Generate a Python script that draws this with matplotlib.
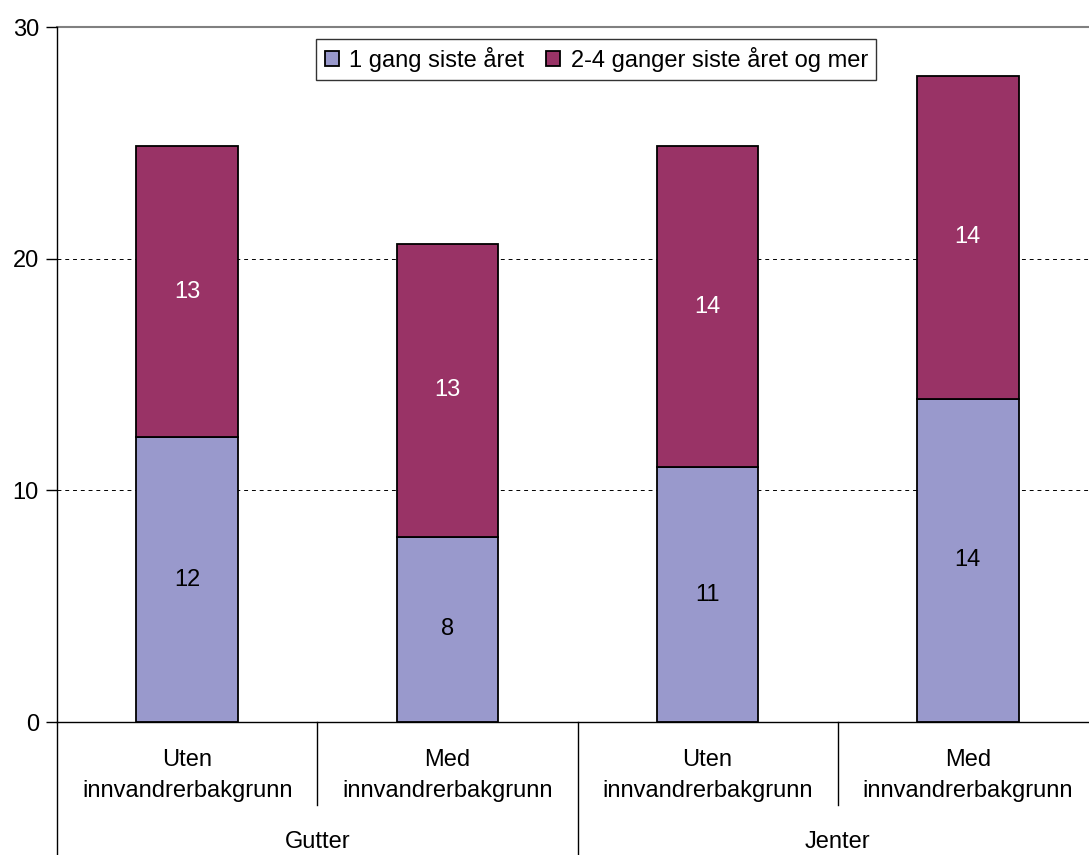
import numpy as np
import matplotlib
matplotlib.use('Agg')
import matplotlib.pyplot as plt

plt.rcParams['font.family'] = ['Liberation Sans', 'DejaVu Sans']

# Data
subgroups = ['Uten\ninnvandrerbakgrunn', 'Med\ninnvandrerbakgrunn',
             'Uten\ninnvandrerbakgrunn', 'Med\ninnvandrerbakgrunn']
groups = ['Gutter', 'Jenter']
once = [12.3, 8.0, 11.0, 13.95]
more = [12.55, 12.65, 13.85, 13.95]
once_labels = ['12', '8', '11', '14']
more_labels = ['13', '13', '14', '14']

series_names = ['1 gang siste året', '2-4 ganger siste året og mer']
colors = ['#9999CC', '#993366']
fs = 17

fig = plt.figure(figsize=(10.89, 8.55), dpi=100)
ax = fig.add_axes([57 / 1089, 1 - 722 / 855, 1041 / 1089, (722 - 27) / 855])

x = np.arange(len(subgroups))
b1 = ax.bar(x, once, width=0.39, color=colors[0], edgecolor='black', linewidth=1.3,
            label=series_names[0], zorder=3)
b2 = ax.bar(x, more, width=0.39, bottom=once, color=colors[1], edgecolor='black',
            linewidth=1.3, label=series_names[1], zorder=3)

ax.bar_label(b1, labels=once_labels, label_type='center', fontsize=fs, color='black')
ax.bar_label(b2, labels=more_labels, label_type='center', fontsize=fs, color='white')

ax.set_xlim(-0.5, 3.5)
ax.set_ylim(0, 30)
ax.set_yticks([0, 10, 20, 30])
ax.tick_params(axis='y', labelsize=fs, length=8, width=1, color='black', pad=5)
ax.set_xticks([])

for yv in [10, 20]:
    ax.axhline(yv, color='black', linestyle=(0, (4, 4)), linewidth=0.7, zorder=1)
ax.axhline(30, color='#808080', linewidth=1.5, zorder=1, clip_on=False)

for s in ['top', 'right']:
    ax.spines[s].set_visible(False)
ax.spines['left'].set_linewidth(1)
ax.spines['bottom'].set_linewidth(1)
ax.spines['bottom'].set_color('black')
ax.spines['left'].set_bounds(0, 30)

# hierarchical category axis below the plot
trans = ax.get_xaxis_transform()
ax.plot([-0.5, -0.5], [0, -0.19], transform=trans, color='black', lw=1, clip_on=False)
ax.plot([1.5, 1.5], [0, -0.19], transform=trans, color='black', lw=1, clip_on=False)
for xv in [0.5, 2.5]:
    ax.plot([xv, xv], [0, -0.119], transform=trans, color='black', lw=1, clip_on=False)

for xi, lab in zip(x, subgroups):
    ax.text(xi, -0.077, lab, transform=trans, ha='center', va='center',
            fontsize=fs, linespacing=1.5)
for gi, g in enumerate(groups):
    ax.text(gi * 2 + 0.5, -0.172, g, transform=trans, ha='center', va='center', fontsize=fs)

leg = ax.legend(loc='upper center', bbox_to_anchor=(0.518, 0.983), ncol=2,
                fontsize=fs, frameon=True, fancybox=False, edgecolor='black',
                handlelength=0.6, handleheight=0.6, handletextpad=0.45,
                columnspacing=0.9, borderpad=0.35, borderaxespad=0)
leg.get_frame().set_linewidth(1)

fig.savefig('out.png', dpi=100)
